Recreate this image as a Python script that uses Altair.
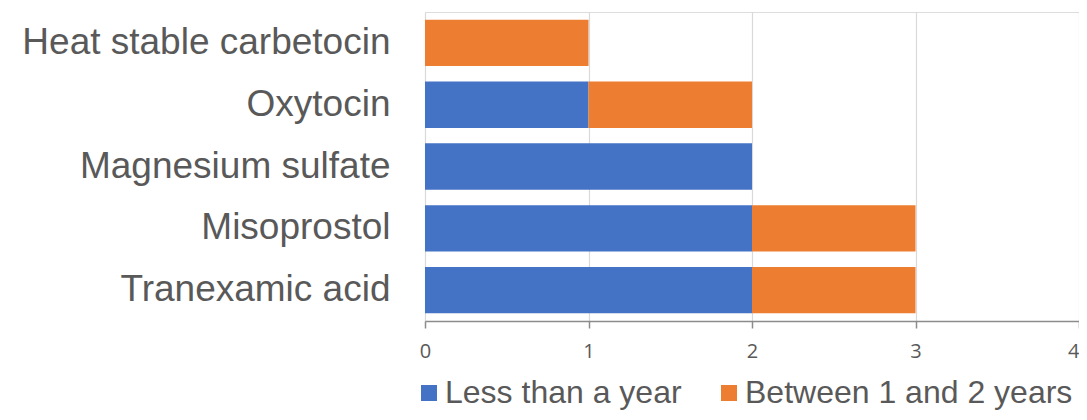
import altair as alt
import pandas as pd

categories = ["Heat stable carbetocin", "Oxytocin", "Magnesium sulfate", "Misoprostol", "Tranexamic acid"]
series = ["Less than a year", "Between 1 and 2 years"]
less_than_year = [0, 1, 2, 2, 2]
between_1_2 = [1, 1, 0, 1, 1]
colors = ["#4472C4", "#ED7D31"]
x_ticks = [0, 1, 2, 3, 4]

rows = []
for i, c in enumerate(categories):
    for j, (s, vals) in enumerate(zip(series, [less_than_year, between_1_2])):
        rows.append({"category": c, "series": s, "value": vals[i], "order": j})
df = pd.DataFrame(rows)

chart = alt.Chart(df).mark_bar().encode(
    y=alt.Y("category:N", sort=categories, title=None,
            scale=alt.Scale(paddingInner=0.25, paddingOuter=0.125),
            axis=alt.Axis(labelFont="Liberation Sans", labelFontSize=37, labelColor="#595959",
                          ticks=False, domain=False, labelPadding=35, labelLimit=500)),
    x=alt.X("value:Q", stack="zero", title=None,
            scale=alt.Scale(domain=[0, 4], nice=False),
            axis=alt.Axis(values=x_ticks, labelFont="Open Sans", labelFontSize=20, labelColor="#595959",
                          labelAlign=alt.expr("datum.value == 4 ? 'right' : 'center'"),
                          tickColor="#8c8c8c", tickSize=7, tickWidth=1.5,
                          domainColor="#8c8c8c", domainWidth=1.5,
                          gridColor="#d9d9d9", gridWidth=1.2, labelPadding=13, format="d")),
    color=alt.Color("series:N", scale=alt.Scale(domain=series, range=colors), title=None,
                    legend=alt.Legend(orient="none", legendX=-12, legendY=365, direction="horizontal",
                                      padding=0,
                                      symbolType="square", symbolSize=256, symbolStrokeWidth=0,
                                      labelFont="Liberation Sans", labelFontSize=32, labelColor="#595959",
                                      labelOffset=0, columnPadding=31, labelLimit=500)),
    order=alt.Order("order:Q"),
).properties(
    width=654, height=309,
    autosize=alt.AutoSizeParams(type="none"),
    padding={"left": 417, "top": 4, "right": 0, "bottom": 91},
).configure_view(stroke=None).configure(background="white")

chart.save("out.html", embed_options={"renderer": "svg", "actions": False})
